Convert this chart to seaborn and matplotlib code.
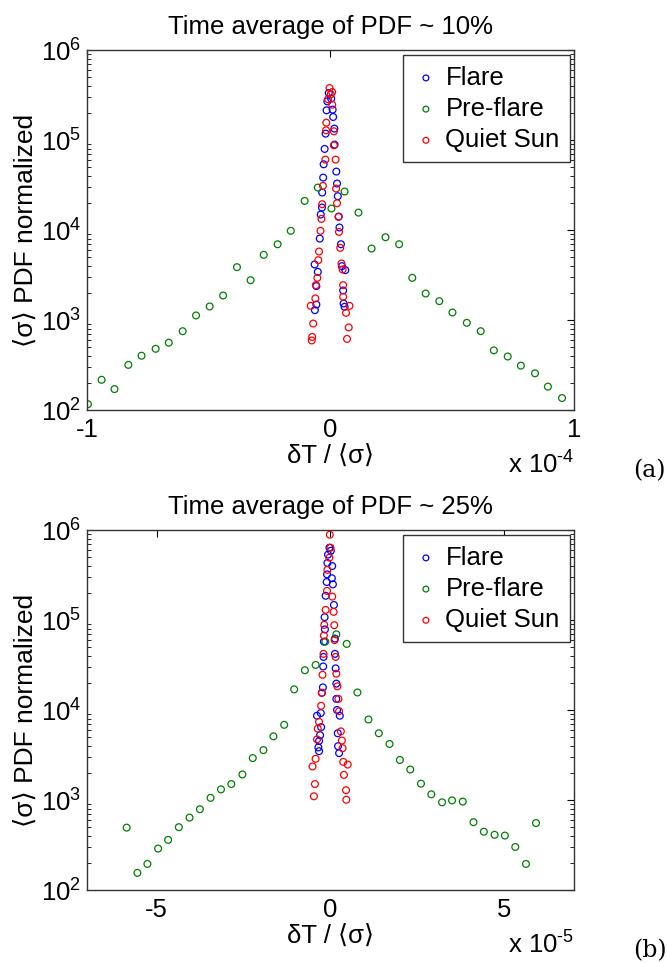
import matplotlib
matplotlib.use('Agg')
import matplotlib.pyplot as plt
import seaborn as sns


# panel (a): x in units of 1e-4
flare_a_x = [-0.064, -0.058, -0.058, -0.052, -0.065, -0.044, -0.040, -0.035, -0.034, -0.030,
             -0.028, -0.024, -0.020, -0.016, -0.013, -0.007, 0.003, 0.009, 0.011, 0.016,
             0.017, 0.024, 0.027, 0.030, 0.034, 0.037, 0.043, 0.047, 0.061, 0.052,
             0.054, 0.058]
flare_a_y = [1290, 1490, 2390, 3440, 4160, 8070, 14930, 17860, 26240, 38460,
             54080, 80170, 118600, 215300, 271000, 335700, 290400, 219300, 181600, 134900,
             89540, 44870, 33040, 23880, 14190, 10720, 6982, 3981, 3597, 2138,
             1531, 1406]

preflare_a_x = [-0.996, -0.940, -0.887, -0.830, -0.776, -0.718, -0.664, -0.607, -0.552, -0.496,
                -0.441, -0.384, -0.328, -0.274, -0.217, -0.163, -0.106, -0.052, 0.004, 0.058,
                0.115, 0.169, 0.226, 0.282, 0.336, 0.391, 0.447, 0.501, 0.560, 0.617,
                0.671, 0.728, 0.782, 0.840, 0.893, 0.951]
preflare_a_y = [116, 217, 171, 318, 402, 480, 561, 753, 1127, 1419,
                1879, 3882, 2780, 5321, 6982, 9840, 21180, 29790, 17420, 26920,
                15700, 6252, 8356, 6982, 2951, 1977, 1626, 1216, 933, 753,
                461, 394, 312, 256, 182, 136]

quiet_a_x = [-0.077, -0.075, -0.071, -0.081, -0.062, -0.060, -0.054, -0.050, -0.047, -0.041,
             -0.037, -0.034, -0.031, -0.021, -0.018, -0.017, -0.010, -0.004, 0.001, 0.007,
             0.007, 0.014, 0.014, 0.021, 0.023, 0.027, 0.033, 0.035, 0.040, 0.045,
             0.050, 0.052, 0.052, 0.078, 0.064, 0.075, 0.068]
quiet_a_y = [594, 650, 916, 1442, 1742, 2449, 2951, 4645, 5794, 9840,
             13370, 19450, 31120, 60950, 129100, 157000, 285800, 381100, 324300, 344400,
             248900, 125900, 87900, 60950, 29040, 19950, 14060, 9572, 6368, 4266,
             3656, 2449, 1816, 1442, 1205, 830, 618]

# panel (b): x in units of 1e-5
flare_b_x = [-0.030, 0.010, -0.070, -0.089, 0.050, -0.099, 0.040, -0.109, 0.070, -0.139,
             0.099, -0.169, -0.159, -0.189, 0.129, 0.129, -0.199, -0.209, 0.149, 0.169,
             -0.218, -0.248, 0.169, 0.189, -0.278, -0.387, 0.268, -0.268, 0.209, -0.298,
             -0.328, 0.218, -0.348, -0.328, 0.248]
flare_b_y = [641200, 592900, 537000, 433500, 400900, 323600, 293100, 266100, 250600, 187100,
             147900, 108100, 79070, 57810, 62520, 42270, 39080, 30620, 29170, 19720,
             17910, 15600, 13340, 10050, 9290, 8670, 8670, 6471, 5534, 5272,
             4550, 3972, 3855, 3499, 3327]

preflare_b_x = [-5.859, -5.551, -5.263, -4.955, -4.667, -4.359, -4.052, -3.754, -3.446, -3.148,
                -2.850, -2.532, -2.234, -1.927, -1.639, -1.331, -1.043, -0.735, -0.427, -0.149,
                0.169, 0.467, 0.775, 1.092, 1.390, 1.698, 1.996, 2.294, 2.602, 2.900,
                3.208, 3.496, 3.803, 4.111, 4.409, 4.717, 5.015, 5.313, 5.621, 5.909]
preflare_b_y = [494, 155, 195, 289, 361, 500, 638, 791, 1059, 1315,
                1507, 1928, 2931, 3597, 5117, 6871, 17020, 27800, 31840, 57810,
                69660, 54580, 15740, 7870, 5534, 4207, 2793, 2188, 1524, 1159,
                944, 991, 962, 568, 445, 411, 403, 301, 195, 556]

quiet_b_x = [-0.020, 0.000, -0.030, -0.089, -0.099, 0.050, -0.139, 0.089, -0.179, 0.109,
             -0.189, 0.119, -0.199, 0.149, -0.228, 0.169, -0.248, 0.199, -0.268, 0.228,
             -0.328, 0.248, -0.367, 0.298, -0.387, 0.328, 0.348, -0.427, -0.516, 0.367,
             0.497, 0.387, -0.447, 0.447, -0.477, 0.457]
quiet_b_y = [893300, 641200, 496600, 363900, 212300, 183200, 130300, 123900, 88920, 88100,
             67610, 60120, 42270, 39080, 24720, 25470, 15600, 18410, 11190, 13340,
             7413, 9750, 6223, 5808, 4732, 4592, 3776, 2877, 2366, 2661,
             2483, 1905, 1507, 1288, 1102, 1009]

panels = [
    dict(flare=(flare_a_x, flare_a_y), pre=(preflare_a_x, preflare_a_y), quiet=(quiet_a_x, quiet_a_y),
         title='Time average of PDF ~ 10%', xlim=(-1, 1), xticks=[-1, 0, 1], xticklabels=['-1', '0', '1'],
         exp='-4', tag='(a)', bottom=0.5742),
    dict(flare=(flare_b_x, flare_b_y), pre=(preflare_b_x, preflare_b_y), quiet=(quiet_b_x, quiet_b_y),
         title='Time average of PDF ~ 25%', xlim=(-7, 7), xticks=[-5, 0, 5], xticklabels=['-5', '0', '5'],
         exp='-5', tag='(b)', bottom=0.0758),
]

sns.set_theme(style='white')
plt.rcParams['font.family'] = ['Liberation Sans', 'DejaVu Sans']
plt.rcParams['mathtext.fontset'] = 'custom'
plt.rcParams['mathtext.rm'] = 'Liberation Sans'
plt.rcParams['mathtext.it'] = 'Liberation Sans:italic'
plt.rcParams['mathtext.bf'] = 'Liberation Sans:bold'
plt.rcParams['axes.unicode_minus'] = False
plt.rcParams['text.color'] = 'black'
plt.rcParams['axes.labelcolor'] = 'black'

fs = 18.5

fig = plt.figure(figsize=(6.67, 9.63), dpi=100)

for p in panels:
    ax = fig.add_axes([0.1304, p['bottom'], 0.7301, 0.3735])
    for key, color, label in [('flare', '#0000ff', 'Flare'),
                              ('pre', '#008000', 'Pre-flare'),
                              ('quiet', '#ff0000', 'Quiet Sun')]:
        xs, ys = p[key]
        sns.scatterplot(x=xs, y=ys, ax=ax, marker='o', s=24, color=color,
                        facecolor='none', edgecolor=color, linewidth=0.9, label=label)
    ax.set_yscale('log')
    ax.set_ylim(1e2, 1e6)
    ax.set_xlim(*p['xlim'])
    ax.set_xticks(p['xticks'])
    ax.set_xticklabels(p['xticklabels'])
    ax.set_yticks([1e2, 1e3, 1e4, 1e5, 1e6])
    ax.tick_params(axis='both', which='both', direction='in', top=True, right=True,
                   labelsize=fs, colors='black')
    ax.tick_params(axis='both', which='major', length=5, width=0.8, pad=4)
    ax.tick_params(axis='x', which='major', pad=6)
    ax.tick_params(axis='y', which='minor', length=3, width=0.6, left=True, right=True)
    ax.tick_params(axis='x', which='minor', bottom=False, top=False)
    for sp in ax.spines.values():
        sp.set_color('#333333')
        sp.set_linewidth(1.0)
    ax.set_title(p['title'], fontsize=fs, pad=12, color='black')
    ax.set_xlabel('δT / ⟨σ⟩', fontsize=fs, labelpad=1)
    ax.set_ylabel('⟨σ⟩ PDF normalized', fontsize=19, labelpad=2)
    leg = ax.legend(loc='upper right', bbox_to_anchor=(0.9918, 0.986), borderaxespad=0,
                    fontsize=fs, frameon=True, fancybox=False, framealpha=1,
                    borderpad=0.4, handlelength=0.96, handletextpad=0.28,
                    labelspacing=0.28, markerscale=0.85)
    leg.get_frame().set_edgecolor('#333333')
    leg.get_frame().set_linewidth(1.0)
    ax.text(1.0, -0.1755, 'x 10$^{\\mathrm{' + p['exp'].replace('-', '\\text{-}') + '}}$',
            transform=ax.transAxes, ha='right', va='baseline', fontsize=fs)
    fig.text(0.949, p['bottom'] - 0.0696, p['tag'], ha='left', va='baseline',
             fontsize=17, family='DejaVu Serif')

plt.savefig('out.png', dpi=100)
